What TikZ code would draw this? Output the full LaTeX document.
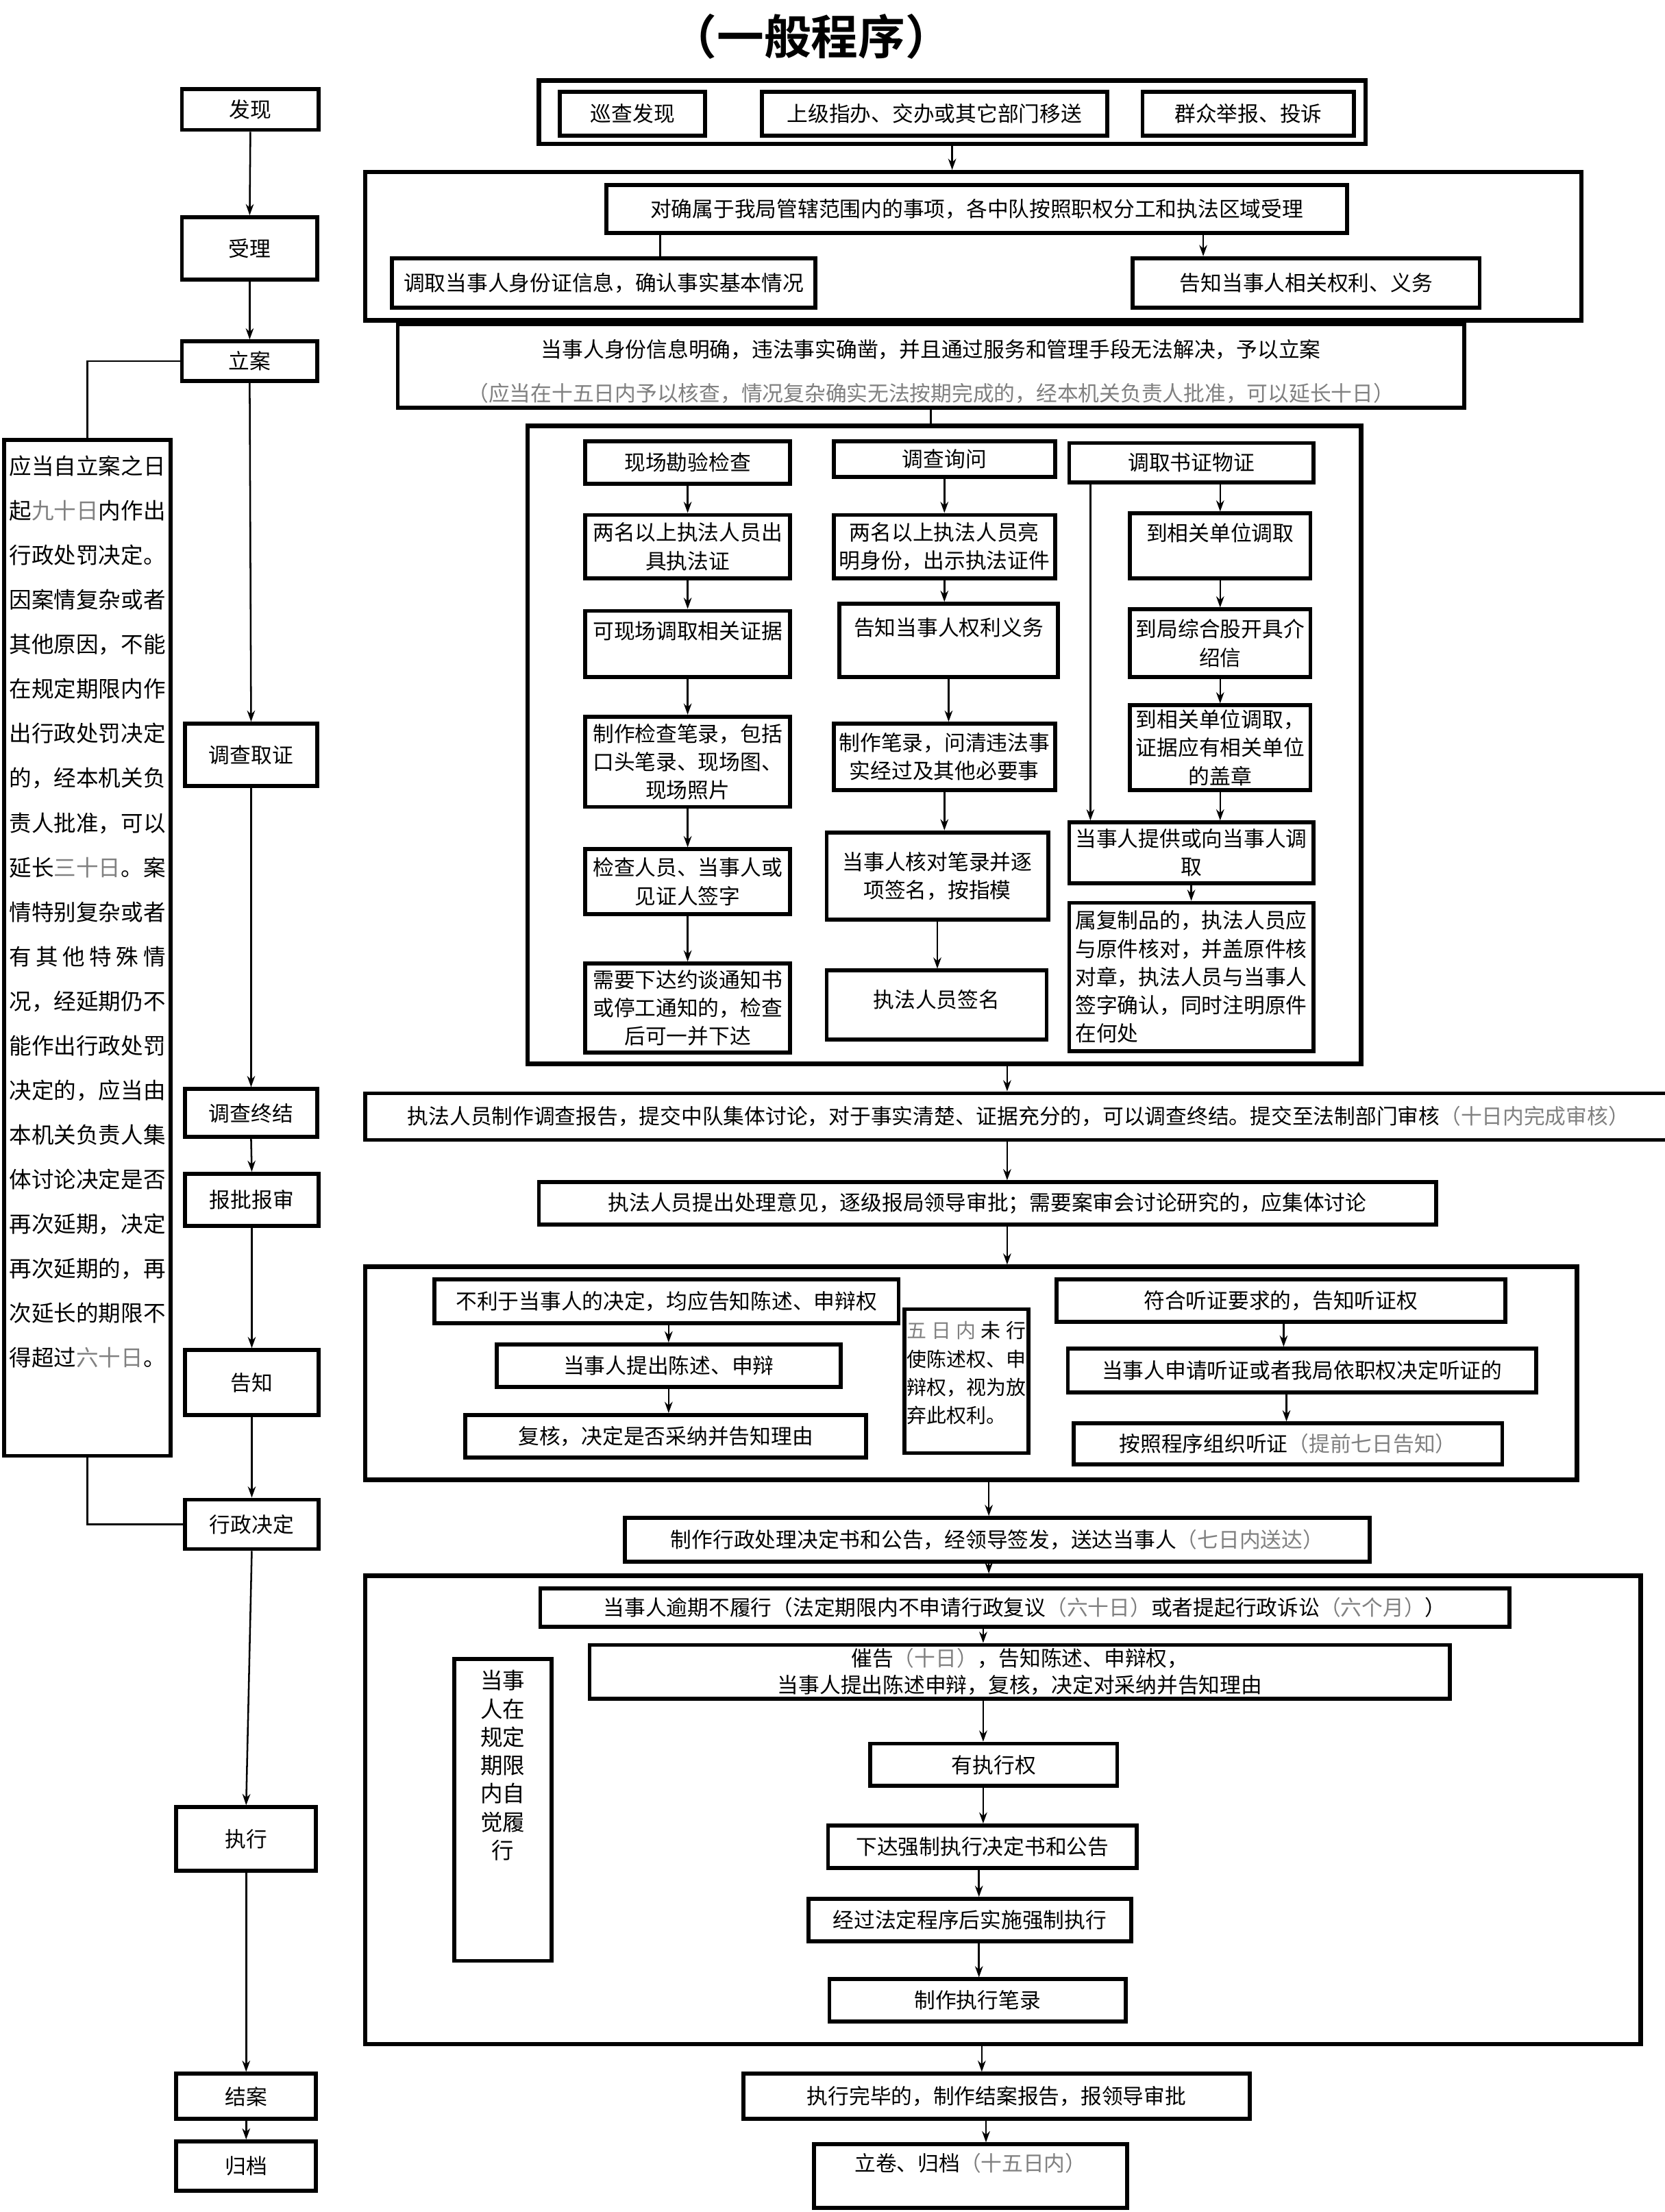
\documentclass[tikz,border=0pt]{standalone}
\usepackage{fontspec}
\newfontfamily\cjk{Noto Sans CJK SC}[BoldFont={Noto Sans CJK SC Bold}]
\usepackage{xcolor}
\usetikzlibrary{positioning, arrows.meta}
\definecolor{hint}{gray}{0.5}
\newcommand{\pu}{0.02cm}
\newcommand{\gr}[1]{\textcolor{hint}{#1}}
\tikzset{
  box/.style={draw, line width=1.6pt, align=center, inner sep=1pt,
    font=\cjk\fontsize{8.5}{11.4}\selectfont},
  sz/.style 2 args={minimum width=#1*\pu, minimum height=#2*\pu},
  bigbox/.style={draw, line width=1.8pt, inner sep=0pt},
  arr/.style={-{Stealth[length=4.5pt,width=3.2pt]}, line width=0.7pt},
  link/.style={line width=0.8pt}
}

\begin{document}
\begin{tikzpicture}[x=0.02cm, y=-0.02cm]
    \fill[white] (0,0) rectangle (1180,1568);
    \useasboundingbox (0,0) rectangle (1180,1568);

    \node[font=\cjk\bfseries\fontsize{19}{22}\selectfont] (title) at (575,26) {（一般程序）};

    % stages on the left
    \node[box, sz={97}{29}] (faxian) at (177.5,77.5) {发现};
    \node[box, sz={96}{44}] (shouli) at (177,176) {受理};
    \node[box, sz={96}{28}] (lian) at (177,256) {立案};
    \node[box, sz={94}{44}] (diaocha) at (178,535) {调查取证};
    \node[box, sz={94}{34}] (zhongjie) at (178,789) {调查终结};
    \node[box, sz={95}{37}] (baopi) at (178.5,850.5) {报批报审};
    \node[box, sz={95}{46}] (gaozhi) at (178.5,980) {告知};
    \node[box, sz={95}{35}] (jueding) at (178.5,1080.5) {行政决定};
    \node[box, sz={99}{45}] (zhixing) at (174.5,1303.5) {执行};
    \node[box, sz={99}{32}] (jiean) at (174.5,1486) {结案};
    \node[box, sz={99}{35}] (guidang) at (174.5,1535.5) {归档};

    \node[box, sz={118}{720}, font=\cjk\fontsize{9}{17.98}\selectfont] (limit) at (62,672)
        {\parbox[c][14.1cm][t]{63pt}{\vspace{2pt}应当自立案之日\\起\gr{九十日}内作出\\行政处罚决定。\\因案情复杂或者\\其他原因，不能\\在规定期限内作\\出行政处罚决定\\的，经本机关负\\责人批准，可以\\延长\gr{三十日}。案\\情特别复杂或者\\\makebox[63pt][s]{有 其 他 特 殊 情}\\况，经延期仍不\\能作出行政处罚\\决定的，应当由\\本机关负责人集\\体讨论决定是否\\再次延期，决定\\再次延期的，再\\次延长的期限不\\得超过\gr{六十日}。}};

    \foreach \a/\b in {faxian/shouli, shouli/lian, lian/diaocha, diaocha/zhongjie, zhongjie/baopi,
        baopi/gaozhi, gaozhi/jueding, jueding/zhixing, zhixing/jiean, jiean/guidang}
        \draw[arr] (\a.south) -- (\b.north);
    \draw[link] (lian.west) -| (limit.north);
    \draw[link] (limit.south) |- (jueding.west);

    % discovery and acceptance
    \node[bigbox, sz={586}{45}] (source) at (675,79.5) {};
    \node[box, sz={103}{31}] (xuncha) at (448.5,80.5) {巡查发现};
    \node[box, sz={245}{31}] (shangji) at (662.5,80.5) {上级指办、交办或其它部门移送};
    \node[box, sz={150}{31}] (qunzhong) at (885,80.5) {群众举报、投诉};

    \node[bigbox, sz={862}{105}] (accept) at (690,174.5) {};
    \node[box, sz={525}{34}] (duique) at (692.5,148) {对确属于我局管辖范围内的事项，各中队按照职权分工和执法区域受理};
    \node[box, sz={300}{35}] (diaoqu) at (428,200.5) {调取当事人身份证信息，确认事实基本情况};
    \node[box, sz={246}{35}] (gaozhiqy) at (926,200.5) {告知当事人相关权利、义务};

    \node[box, sz={756}{59}] (lianbox) at (660,259.5) {\mbox{}\\当事人身份信息明确，违法事实确凿，并且通过服务和管理手段无法解决，予以立案\\[6.2pt]
        \gr{（应当在十五日内予以核查，情况复杂确实无法按期完成的，经本机关负责人批准，可以延长十日）}};

    \draw[arr] (source.south) -- (source.south |- accept.north);
    \draw[link] (468,0 |- duique.south) -- (468,0 |- diaoqu.north);
    \draw[arr] (853,0 |- duique.south) -- (853,0 |- gaozhiqy.north);
    \draw[link] (664,0 |- accept.south) -- (664,0 |- lianbox.north);

    % investigation
    \node[bigbox, sz={591}{452}] (survey) at (669.5,528) {};
    \node[box, sz={145}{30}] (k1) at (487.5,328) {现场勘验检查};
    \node[box, sz={145}{45}] (k2) at (487.5,387.5) {两名以上执法人员出\\具执法证};
    \node[box, sz={145}{47}] (k3) at (487.5,456.5) {可现场调取相关证据\\ \mbox{}};
    \node[box, sz={145}{64}] (k4) at (487.5,540) {制作检查笔录，包括\\口头笔录、现场图、\\现场照片};
    \node[box, sz={145}{46}] (k5) at (487.5,625) {检查人员、当事人或\\见证人签字};
    \node[box, sz={145}{63}] (k6) at (487.5,714.5) {需要下达约谈通知书\\或停工通知的，检查\\后可一并下达};

    \node[box, sz={157}{25}] (x1) at (669.5,325.5) {调查询问};
    \node[box, sz={157}{45}] (x2) at (669.5,387.5) {两名以上执法人员亮\\明身份，出示执法证件};
    \node[box, sz={155}{52}] (x3) at (672.5,454) {告知当事人权利义务\\ \mbox{}};
    \node[box, sz={157}{47}] (x4) at (669.5,536.5) {制作笔录，问清违法事\\实经过及其他必要事};
    \node[box, sz={157}{62}] (x5) at (664.5,621) {当事人核对笔录并逐\\项签名，按指模};
    \node[box, sz={156}{49}] (x6) at (664,712.5) {执法人员签名\\[-6pt]\mbox{}};

    \node[box, sz={173}{28}] (z1) at (844.5,328) {调取书证物证};
    \node[box, sz={128}{46}] (z2) at (865,387) {到相关单位调取\\ \mbox{}};
    \node[box, sz={128}{48}] (z3) at (865,456) {到局综合股开具介\\绍信};
    \node[box, sz={128}{60}] (z4) at (865,530) {到相关单位调取，\\证据应有相关单位\\的盖章};
    \node[box, sz={173}{43}] (z5) at (844.5,604.5) {当事人提供或向当事人调\\取};
    \node[box, sz={173}{105}, align=left] (z6) at (844.5,692.5) {属复制品的，执法人员应\\与原件核对，并盖原件核\\对章，执法人员与当事人\\签字确认，同时注明原件\\在何处};

    \foreach \a/\b in {k1/k2, k2/k3, k3/k4, k4/k5, k5/k6, x1/x2, x2/x3, x3/x4, x4/x5, x5/x6,
        z2/z3, z3/z4, z4/z5, z5/z6}
        \draw[arr] (\a.south) -- (\a.south |- \b.north);
    \draw[arr] (z2.north |- z1.south) -- (z2.north);
    \draw[arr] (773,0 |- z1.south) -- (773,0 |- z5.north);
    \draw[link] (lianbox.south) -- (lianbox.south |- survey.north);

    % report and approval
    \node[box, sz={926}{33}] (report) at (722,791.5) {执法人员制作调查报告，提交中队集体讨论，对于事实清楚、证据充分的，可以调查终结。提交至法制部门审核\gr{（十日内完成审核）}};
    \node[box, sz={636}{30}] (opinion) at (700,853) {执法人员提出处理意见，逐级报局领导审批；需要案审会讨论研究的，应集体讨论};
    \draw[arr] (714,0 |- survey.south) -- (714,0 |- report.north);
    \draw[arr] (714,0 |- report.south) -- (714,0 |- opinion.north);

    % notification
    \node[bigbox, sz={859}{151}] (notify) at (688.5,973.5) {};
    \node[box, sz={329}{31}] (g1) at (472.5,922.5) {不利于当事人的决定，均应告知陈述、申辩权};
    \node[box, sz={244}{30}] (g2) at (474,968) {当事人提出陈述、申辩};
    \node[box, sz={284}{30}] (g3) at (472,1018) {复核，决定是否采纳并告知理由};
    \node[box, sz={88}{102}, font=\cjk\fontsize{8}{11.4}\selectfont] (g4) at (685,979)
        {\parbox[c][1.9cm][t]{48pt}{\vspace{3pt}\makebox[48pt][s]{\gr{五 日 内} 未 行}\\使陈述权、申\\辩权，视为放\\弃此权利。}};
    \node[box, sz={318}{30}] (g5) at (908,922) {符合听证要求的，告知听证权};
    \node[box, sz={332}{31}] (g6) at (923,971.5) {当事人申请听证或者我局依职权决定听证的};
    \node[box, sz={304}{29}] (g7) at (913,1023.5) {按照程序组织听证\gr{（提前七日告知）}};
    \draw[arr] (714,0 |- opinion.south) -- (714,0 |- notify.north);
    \draw[arr] (g2.north |- g1.south) -- (g2.north);
    \draw[arr] (g2.south) -- (g2.south |- g3.north);
    \draw[arr] (910,0 |- g5.south) -- (910,0 |- g6.north);
    \draw[arr] (912,0 |- g6.south) -- (912,0 |- g7.north);

    % decision and enforcement
    \node[box, sz={528}{31}] (decision) at (707,1091.5) {制作行政处理决定书和公告，经领导签发，送达当事人\gr{（七日内送达）}};
    \draw[arr] (701,0 |- notify.south) -- (701,0 |- decision.north);

    \node[bigbox, sz={904}{332}] (enforce) at (711,1283) {};
    \node[box, sz={687}{27}] (e1) at (726.5,1139.5) {当事人逾期不履行（法定期限内不申请行政复议\gr{（六十日）}或者提起行政诉讼\gr{（六个月）}）};
    \node[box, sz={610}{38}, font=\cjk\fontsize{8.5}{10.8}\selectfont] (e2) at (723,1185) {催告\gr{（十日）}，告知陈述、申辩权，\\当事人提出陈述申辩，复核，决定对采纳并告知理由};
    \node[box, sz={69}{214}, font=\cjk\fontsize{9}{11.4}\selectfont] (e3) at (356.5,1283)
        {\parbox[c][4.1cm][t]{1.2cm}{\centering\vspace{2pt}当事\\人在\\规定\\期限\\内自\\觉履\\行}};
    \node[box, sz={175}{30}] (e4) at (704.5,1251) {有执行权};
    \node[box, sz={219}{30}] (e5) at (696.5,1309) {下达强制执行决定书和公告};
    \node[box, sz={229}{30}] (e6) at (687.5,1361) {经过法定程序后实施强制执行};
    \node[box, sz={210}{30}] (e7) at (693,1418) {制作执行笔录};
    \draw[arr] (701,0 |- decision.south) -- (701,0 |- enforce.north);
    \draw[arr] (697,0 |- e1.south) -- (697,0 |- e2.north);
    \draw[arr] (697,0 |- e2.south) -- (697,0 |- e4.north);
    \draw[arr] (697,0 |- e4.south) -- (697,0 |- e5.north);
    \draw[arr] (694,0 |- e5.south) -- (694,0 |- e6.north);
    \draw[arr] (694,0 |- e6.south) -- (694,0 |- e7.north);

    % closing
    \node[box, sz={359}{32}] (closing) at (706.5,1486) {执行完毕的，制作结案报告，报领导审批};
    \node[box, sz={222}{45}] (archive) at (688,1542.5) {立卷、归档\gr{（十五日内）}\\ \mbox{}};
    \draw[arr] (696,0 |- enforce.south) -- (696,0 |- closing.north);
    \draw[arr] (699,0 |- closing.south) -- (699,0 |- archive.north);
\end{tikzpicture}
\end{document}
